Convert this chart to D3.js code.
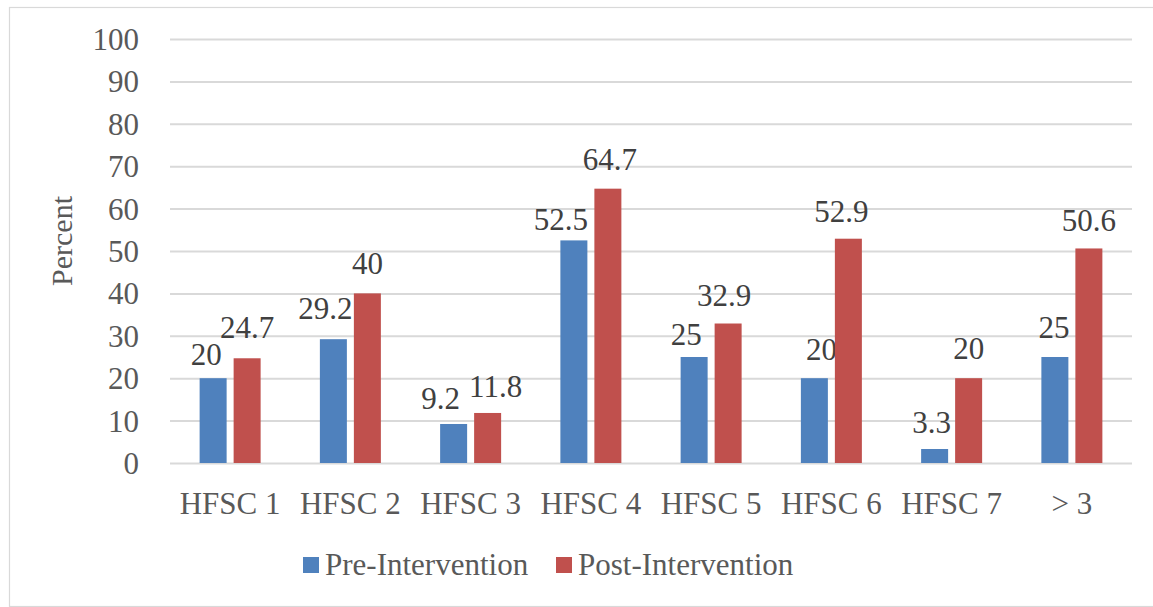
<!DOCTYPE html>
<html>
<head>
<meta charset="utf-8">
<script src="https://cdn.jsdelivr.net/npm/d3@7"></script>
<style>
  body { margin: 0; background: #fff; }
  svg { display: block; }
</style>
</head>
<body>
<svg id="chart" width="1153" height="607"></svg>
<script>
// ---- data ----
const categories = ["HFSC 1", "HFSC 2", "HFSC 3", "HFSC 4", "HFSC 5", "HFSC 6", "HFSC 7", "> 3"];
const preIntervention = [20, 29.2, 9.2, 52.5, 25, 20, 3.3, 25];
const postIntervention = [24.7, 40, 11.8, 64.7, 32.9, 52.9, 20, 50.6];
const seriesNames = ["Pre-Intervention", "Post-Intervention"];
const yTicks = [0, 10, 20, 30, 40, 50, 60, 70, 80, 90, 100];
const yTitle = "Percent";

// ---- layout ----
const FONT = "'Liberation Serif', 'Times New Roman', serif";
const colors = ["#4F81BD", "#C0504D"];
const plot = { left: 170, right: 1132, top: 39, bottom: 463 };
// small horizontal nudges that keep neighbouring value labels apart
const labelNudge = [
  [-7, -8, -13, -13, -8, 7, -3, -1],
  [0, 0, 8, 2, -4, -7, 0, 0]
];
const labelLift = [
  [13, 20, 15, 10, 12, 18, 16, 19],
  [20, 19, 16, 19, 18, 17, 19, 17]
];

const svg = d3.select("#chart").style("font-family", FONT);

// outer chart frame
svg.append("rect")
  .attr("x", 9.5).attr("y", 7.5)
  .attr("width", 1150).attr("height", 599)
  .attr("fill", "#fff").attr("stroke", "#d9d9d9").attr("stroke-width", 1.2);

const x = d3.scaleBand().domain(categories).range([plot.left, plot.right]).padding(0);
const xSub = d3.scaleBand().domain([0, 1]).range([-30.5, 30.5]).paddingInner(7 / 34).paddingOuter(0);
const y = d3.scaleLinear().domain([0, 100]).range([plot.bottom, plot.top]);

// gridlines + y tick labels
const yAxis = d3.axisLeft(y).tickValues(yTicks).tickSize(-(plot.right - plot.left)).tickPadding(31);
const gy = svg.append("g").attr("transform", `translate(${plot.left},0)`).call(yAxis)
  .attr("font-family", FONT).attr("font-size", 31);
gy.select(".domain").remove();
gy.selectAll(".tick line").attr("stroke", "#d9d9d9").attr("stroke-width", 2);
gy.selectAll(".tick text").attr("fill", "#595959").attr("dy", "0.34em");

// x axis category labels
const xAxis = d3.axisBottom(x).tickSize(0).tickPadding(0);
const gx = svg.append("g").attr("transform", `translate(0,${plot.bottom})`).call(xAxis)
  .attr("font-family", FONT).attr("font-size", 31);
gx.select(".domain").remove();
gx.selectAll(".tick text").attr("fill", "#595959").attr("dy", 0).attr("y", 51);

// bars and value labels
const series = [preIntervention, postIntervention];
series.forEach((vals, s) => {
  const g = svg.append("g");
  g.selectAll("rect").data(vals).join("rect")
    .attr("x", (d, i) => x(categories[i]) + x.bandwidth() / 2 + xSub(s))
    .attr("y", d => y(d))
    .attr("width", xSub.bandwidth())
    .attr("height", d => y(0) - y(d))
    .attr("fill", colors[s]);

  g.selectAll("text").data(vals).join("text")
    .attr("x", (d, i) => x(categories[i]) + x.bandwidth() / 2 + xSub(s) + xSub.bandwidth() / 2 + labelNudge[s][i])
    .attr("y", (d, i) => y(d) - labelLift[s][i])
    .attr("text-anchor", "middle")
    .attr("font-family", FONT)
    .attr("font-size", 31)
    .attr("fill", "#404040")
    .text(d => d);
});

// y axis title
svg.append("text")
  .attr("transform", "translate(72,241) rotate(-90)")
  .attr("text-anchor", "middle")
  .attr("font-family", FONT)
  .attr("font-size", 30)
  .attr("fill", "#595959")
  .text(yTitle);

// legend
const legendPos = [303, 556];
seriesNames.forEach((name, s) => {
  svg.append("rect")
    .attr("x", legendPos[s]).attr("y", 557)
    .attr("width", 16).attr("height", 16)
    .attr("fill", colors[s]);
  svg.append("text")
    .attr("x", legendPos[s] + 22).attr("y", 575)
    .attr("font-family", FONT)
    .attr("font-size", 31)
    .attr("fill", "#595959")
    .text(name);
});
</script>
</body>
</html>
